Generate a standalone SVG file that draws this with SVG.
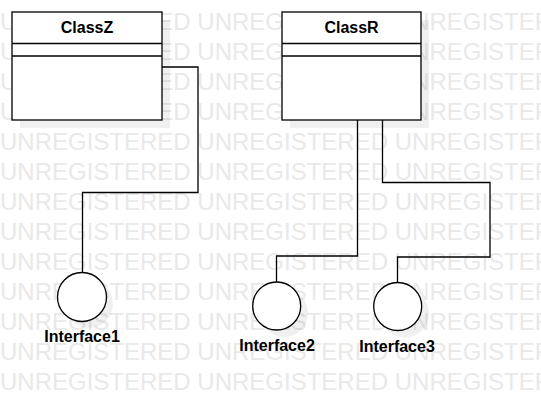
<svg xmlns="http://www.w3.org/2000/svg" width="541" height="412" viewBox="0 0 541 412">
<style>
.wm{font-family:"Liberation Sans",Arial,sans-serif;font-size:24px;fill:#e9e9e9}
.box{fill:#fff;stroke:#000;stroke-width:1.3}
.shadow{fill:#000;fill-opacity:0.06}
.name{font-family:"Liberation Sans",Arial,sans-serif;font-size:16px;font-weight:bold;fill:#000;text-anchor:middle}
.conn{fill:none;stroke:#000;stroke-width:1.3}
</style>
<rect width="541" height="412" fill="#fff"/>
<g id="watermark">
<text class="wm" x="0" y="30">UNREGISTERED UNREGISTERED UNREGISTERED</text>
<text class="wm" x="0" y="60">UNREGISTERED UNREGISTERED UNREGISTERED</text>
<text class="wm" x="0" y="90">UNREGISTERED UNREGISTERED UNREGISTERED</text>
<text class="wm" x="0" y="120">UNREGISTERED UNREGISTERED UNREGISTERED</text>
<text class="wm" x="0" y="150">UNREGISTERED UNREGISTERED UNREGISTERED</text>
<text class="wm" x="0" y="180">UNREGISTERED UNREGISTERED UNREGISTERED</text>
<text class="wm" x="0" y="210">UNREGISTERED UNREGISTERED UNREGISTERED</text>
<text class="wm" x="0" y="240">UNREGISTERED UNREGISTERED UNREGISTERED</text>
<text class="wm" x="0" y="270">UNREGISTERED UNREGISTERED UNREGISTERED</text>
<text class="wm" x="0" y="300">UNREGISTERED UNREGISTERED UNREGISTERED</text>
<text class="wm" x="0" y="330">UNREGISTERED UNREGISTERED UNREGISTERED</text>
<text class="wm" x="0" y="360">UNREGISTERED UNREGISTERED UNREGISTERED</text>
<text class="wm" x="0" y="390">UNREGISTERED UNREGISTERED UNREGISTERED</text>
</g>
<g id="ClassZ">
<rect class="shadow" x="20" y="20" width="150" height="108"/>
<rect class="box" x="12" y="12" width="150" height="108"/>
<line class="box" x1="12" y1="43.5" x2="162" y2="43.5"/>
<line class="box" x1="12" y1="56" x2="162" y2="56"/>
<text class="name" x="87" y="33">ClassZ</text>
</g>
<g id="ClassR">
<rect class="shadow" x="290" y="20" width="139" height="108"/>
<rect class="box" x="282" y="12" width="139" height="108"/>
<line class="box" x1="282" y1="43.5" x2="421" y2="43.5"/>
<line class="box" x1="282" y1="56" x2="421" y2="56"/>
<text class="name" x="351.5" y="33">ClassR</text>
</g>
<g id="connectors">
<polyline class="conn" points="162,67 198,67 198,192.5 82.5,192.5 82.5,273"/>
<polyline class="conn" points="357.5,120 357.5,256 276.5,256 276.5,282"/>
<polyline class="conn" points="382.5,120 382.5,182.5 490,182.5 490,257 397.5,257 397.5,282"/>
</g>
<g id="Interface1">
<circle class="shadow" cx="89" cy="304" r="24"/>
<circle class="box" cx="82" cy="297" r="24.5"/>
<text class="name" x="82" y="342">Interface1</text>
</g>
<g id="Interface2">
<circle class="shadow" cx="284" cy="313" r="24"/>
<circle class="box" cx="276.7" cy="306" r="24"/>
<text class="name" x="277" y="351">Interface2</text>
</g>
<g id="Interface3">
<circle class="shadow" cx="405" cy="313.5" r="24"/>
<circle class="box" cx="397.7" cy="306.5" r="24"/>
<text class="name" x="397" y="352">Interface3</text>
</g>
</svg>
